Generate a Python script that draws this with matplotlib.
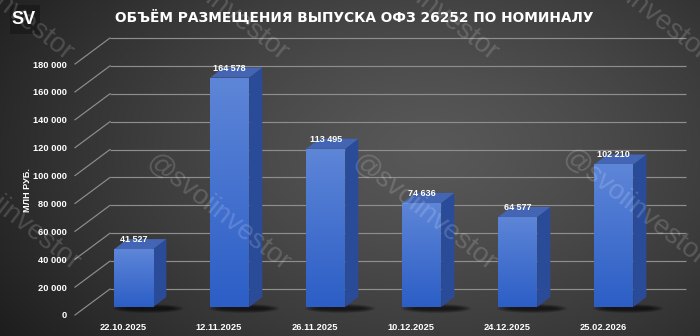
import numpy as np
import matplotlib
matplotlib.use("Agg")
import matplotlib.pyplot as plt
from matplotlib.patches import Polygon, Rectangle, Ellipse
from matplotlib import font_manager

# ---------------- data ----------------
categories = ["22.10.2025", "12.11.2025", "26.11.2025", "10.12.2025", "24.12.2025", "25.02.2026"]
values = [41527, 164578, 113495, 74636, 64577, 102210]
value_labels = ["41 527", "164 578", "113 495", "74 636", "64 577", "102 210"]
yticks = [0, 20000, 40000, 60000, 80000, 100000, 120000, 140000, 160000, 180000]
ytick_labels = ["0", "20 000", "40 000", "60 000", "80 000", "100 000", "120 000",
                "140 000", "160 000", "180 000"]
title = "ОБЪЁМ РАЗМЕЩЕНИЯ ВЫПУСКА ОФЗ 26252 ПО НОМИНАЛУ"
ylabel = "МЛН РУБ."
watermark = "@svoiinvestor"

W, H = 700, 336
avail = {f.name for f in font_manager.fontManager.ttflist}
def pick(*names):
    for n in names:
        if n in avail:
            return n
    return "DejaVu Sans"
num_font = pick("Liberation Sans Narrow", "Liberation Sans", "Arial")
title_font = pick("DejaVu Sans")
wm_font = pick("Liberation Sans", "DejaVu Sans")

fig = plt.figure(figsize=(W / 100, H / 100), dpi=100)

# ---------------- background ----------------
bg = fig.add_axes([0, 0, 1, 1])
yy, xx = np.mgrid[0:H, 0:W]
r = np.sqrt(((xx - 430) / 470.0) ** 2 + ((yy - 150) / 300.0) ** 2)
r = np.clip(r, 0, 1.15) / 1.15
c_in = np.array([0x58, 0x58, 0x58]) / 255
c_out = np.array([0x1a, 0x1a, 0x1a]) / 255
img = c_in[None, None, :] * (1 - r[..., None] ** 1.3) + c_out[None, None, :] * (r[..., None] ** 1.3)
bg.imshow(img, extent=(0, W, 0, H), origin="upper", aspect="auto", zorder=-10)
bg.set_xlim(0, W); bg.set_ylim(0, H)
bg.axis("off")

# ---------------- main axes (front plane) ----------------
ax = fig.add_axes([75 / W, 21 / H, 576 / W, 251 / H])
ax.set_xlim(-0.5, len(categories) - 0.5)
ax.set_ylim(0, 180000)
ax.patch.set_alpha(0)
for s in ax.spines.values():
    s.set_visible(False)

# pixel -> data conversion from the axes scales
px_x = 576 / len(categories)      # pixels per category
px_y = 251 / 180000.0             # pixels per unit
def dpx(dx, dy):
    return dx / px_x, dy / px_y

grid_col = "#8e8e8e"
# back wall depth
bdx, bdy = dpx(35, 26)
x_left, x_right = -0.5, len(categories) - 0.5
for v in yticks:
    ax.plot([x_left + bdx, x_right + bdx], [v + bdy, v + bdy], color=grid_col, lw=0.85,
            clip_on=False, zorder=1, solid_capstyle="butt")
    ax.plot([x_left, x_left + bdx], [v, v + bdy], color=grid_col, lw=0.85, clip_on=False, zorder=1)

# bars
pdx, pdy = dpx(10.8, 8)          # bar plane behind front plane
sdx, sdy = dpx(13, 10)           # bar depth
bw = 39 / px_x
grad = np.linspace(0, 1, 256)[:, None]
top_c = np.array([0x5e, 0x86, 0xd8]) / 255
bot_c = np.array([0x2c, 0x5e, 0xc6]) / 255
grad_img = top_c[None, None, :] * (1 - grad[..., None]) + bot_c[None, None, :] * grad[..., None]

for i, v in enumerate(values):
    xc = i + pdx
    x0, x1 = xc - bw / 2, xc + bw / 2
    b = pdy
    # shadow
    for k in range(7):
        e = Ellipse((xc + 0.15, b - 1.5 / px_y), bw * (1.8 - 0.1 * k), (9 - k) / px_y,
                    facecolor="black", edgecolor="none", alpha=0.12, zorder=2, clip_on=False)
        ax.add_patch(e)
    # front face
    bars = ax.bar([xc], [v], width=bw, bottom=b, color="#3a6ccc", zorder=3, clip_on=False)
    rect = bars.patches[0]
    im = ax.imshow(grad_img, extent=(x0, x1, b, b + v), origin="upper", aspect="auto",
                   zorder=3.5, clip_on=True)
    im.set_clip_path(rect)
    # side face
    side = Polygon([(x1, b), (x1 + sdx, b + sdy), (x1 + sdx, b + v + sdy), (x1, b + v)],
                   closed=True, facecolor="#2a4c98", edgecolor="none", zorder=3, clip_on=False)
    ax.add_patch(side)
    # top face
    top = Polygon([(x0, b + v), (x1, b + v), (x1 + sdx, b + v + sdy), (x0 + sdx, b + v + sdy)],
                  closed=True, facecolor="#4365b4", edgecolor="none", zorder=3, clip_on=False)
    ax.add_patch(top)
    ax.text(xc, b + v + 9.5 / px_y, value_labels[i], ha="center", va="center",
            color="white", fontsize=6.5, fontweight="bold", family=num_font, zorder=6)

ax.set_xlim(-0.5, len(categories) - 0.5)
ax.set_ylim(0, 180000)
ax.set_yticks(yticks)
ax.set_yticklabels(ytick_labels)
ax.set_xticks(range(len(categories)))
ax.set_xticklabels(categories)
ax.tick_params(axis="y", length=0, pad=6, colors="white", labelsize=6.7)
ax.tick_params(axis="x", length=0, pad=6, colors="white", labelsize=6.7)
for lab in ax.get_yticklabels() + ax.get_xticklabels():
    lab.set_fontweight("bold")
    lab.set_family(num_font)

fig.text(28 / W, 1 - 190 / H, ylabel, rotation=90, ha="center", va="center",
         color="white", fontsize=6.6, fontweight="bold", family=num_font)

# title and logo
fig.text(354 / W, 1 - 17 / H, title, ha="center", va="center", color="white",
         fontsize=9.9, fontweight="bold", family=title_font)
fig.patches.append(Rectangle((10 / W, 1 - 34 / H), 30 / W, 29 / H, transform=fig.transFigure,
                             facecolor="#161616", edgecolor="none", alpha=0.6, zorder=1))
fig.text(24 / W, 1 - 20 / H, "SV", ha="center", va="center", color="white",
         fontsize=13, fontweight="bold", family=pick("Liberation Sans Narrow", "Liberation Sans"),
         zorder=2)

# watermarks
for cx, cy in [(1, 3), (216, 3), (426, 3), (636, 3),
               (8, 213), (218, 213), (424, 213), (634, 208)]:
    fig.text(cx / W, 1 - cy / H, watermark, rotation=-38, ha="center", va="center",
             rotation_mode="anchor", color="white", alpha=0.16, fontsize=20,
             family=wm_font, zorder=20)

fig.savefig("out.png", dpi=100)
